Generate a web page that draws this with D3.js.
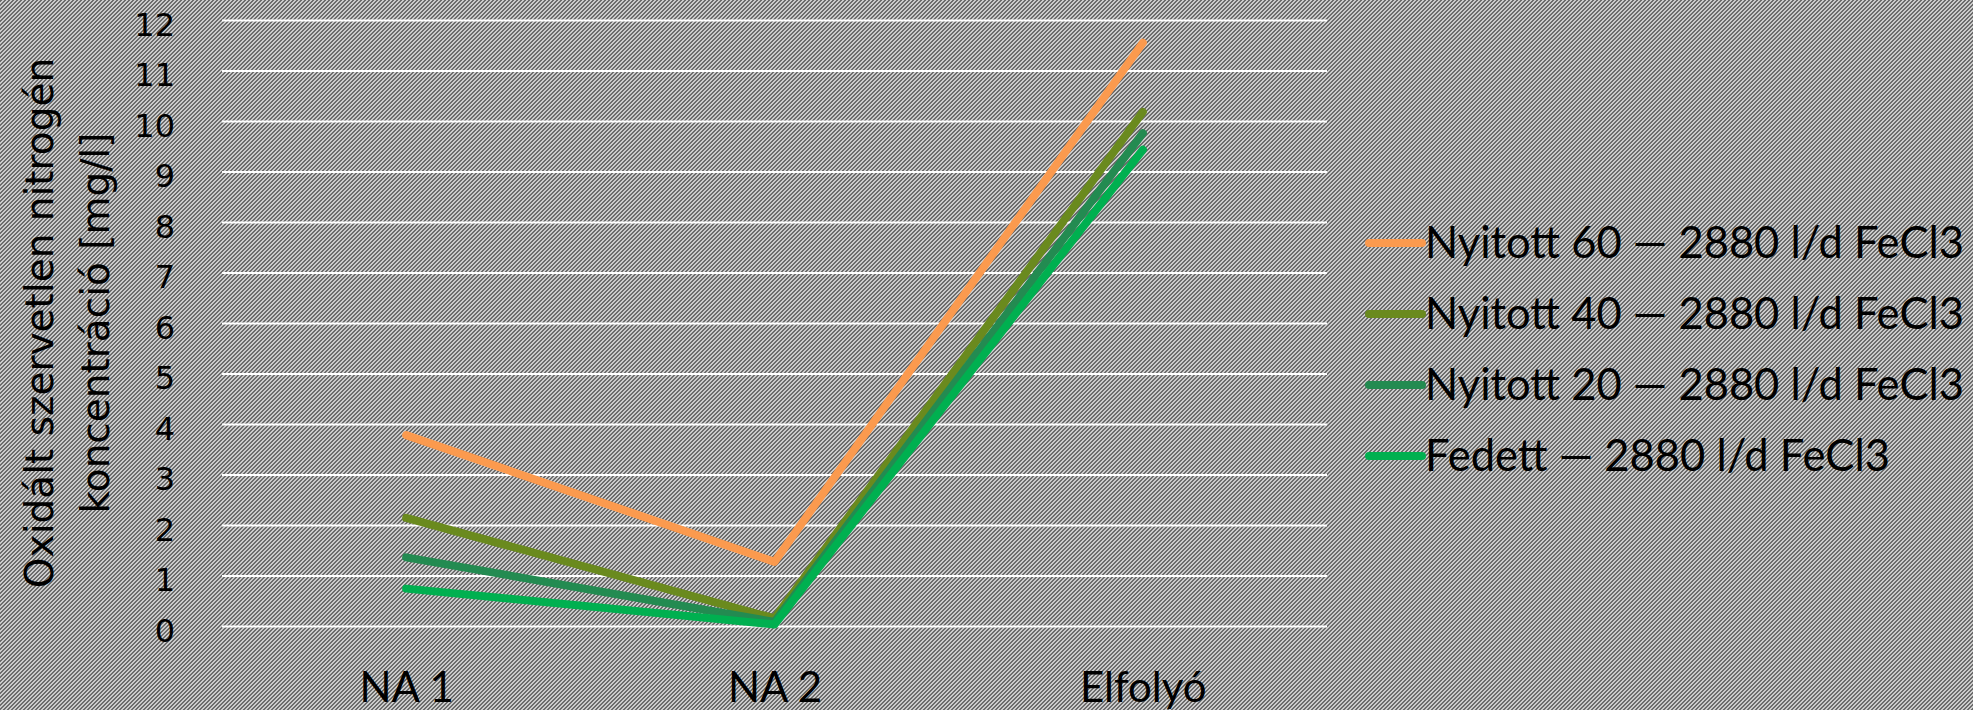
<!DOCTYPE html>
<html>
<head>
<meta charset="utf-8">
<script src="https://cdnjs.cloudflare.com/ajax/libs/d3/7.8.5/d3.min.js"></script>
<style>
body { margin: 0; overflow: hidden; }
svg { display: block; }
</style>
</head>
<body>
<svg id="chart" width="1973" height="710"></svg>
<script>
// categories on the x axis
var categories = ["NA 1", "NA 2", "Elfolyó"];

// series names (legend order)
var seriesNames = [
  "Nyitott 60 — 2880 l/d FeCl3",
  "Nyitott 40 — 2880 l/d FeCl3",
  "Nyitott 20 — 2880 l/d FeCl3",
  "Fedett — 2880 l/d FeCl3"
];

// values, mg/l
var nyitott60 = [3.78, 1.27, 11.55];
var nyitott40 = [2.14, 0.15, 10.18];
var nyitott20 = [1.36, 0.08, 9.76];
var fedett = [0.74, 0.03, 9.43];

var yTicks = [0, 1, 2, 3, 4, 5, 6, 7, 8, 9, 10, 11, 12];

var colors = ["#fb9a4e", "#6a8a1e", "#238b51", "#00b050"];
var allSeries = [nyitott60, nyitott40, nyitott20, fedett];

var svg = d3.select("#chart");
var W = 1973, H = 710;
var plotLeft = 222, plotRight = 1327, plotTop = 20, plotBottom = 626;

// striped background
var defs = svg.append("defs");
var pat = defs.append("pattern")
  .attr("id", "stripes")
  .attr("patternUnits", "userSpaceOnUse")
  .attr("width", 4).attr("height", 4);
pat.append("rect").attr("width", 4).attr("height", 4).attr("fill", "#cbcbcb");
for (var r = 0; r < 4; r++) {
  for (var c = 0; c < 4; c++) {
    if ((r + c) % 4 < 2) {
      pat.append("rect").attr("x", c).attr("y", r).attr("width", 1).attr("height", 1)
        .attr("fill", "#6c6c6c");
    }
  }
}
svg.append("rect").attr("width", W).attr("height", H).attr("fill", "url(#stripes)")
  .attr("shape-rendering", "crispEdges");

var x = d3.scalePoint().domain(categories).range([plotLeft, plotRight]).padding(0.5);
var y = d3.scaleLinear().domain([0, 12]).range([plotBottom, plotTop]);

// gridlines
var grid = svg.append("g")
  .attr("transform", "translate(" + plotLeft + ",0)")
  .call(d3.axisLeft(y).tickValues(yTicks).tickSize(-(plotRight - plotLeft)).tickFormat(""));
grid.select(".domain").remove();
grid.selectAll("line").attr("stroke", "#ffffff").attr("stroke-width", 2);

// y tick labels
var yAxis = svg.append("g")
  .attr("transform", "translate(" + plotLeft + ",0)")
  .call(d3.axisLeft(y).tickValues(yTicks).tickSize(0).tickPadding(47));
yAxis.select(".domain").remove();
yAxis.selectAll("text")
  .attr("fill", "#000")
  .attr("dy", "0.47em")
  .style("font-family", "'DejaVu Sans'")
  .style("font-size", "32px");

// x labels
var xAxis = svg.append("g")
  .attr("transform", "translate(0," + plotBottom + ")")
  .call(d3.axisBottom(x).tickSize(0));
xAxis.select(".domain").remove();
xAxis.selectAll("text")
  .attr("fill", "#000")
  .attr("y", 76).attr("dy", 0)
  .style("font-family", "Lato")
  .style("font-size", "42px");

// y axis title (two lines)
var titleLines = ["Oxidált szervetlen nitrogén", "koncentráció [mg/l]"];
var titleX = [53, 109];
titleLines.forEach(function (t, i) {
  svg.append("text")
    .attr("transform", "translate(" + titleX[i] + "," + ((plotTop + plotBottom) / 2) + ") rotate(-90)")
    .attr("text-anchor", "middle")
    .style("font-family", "'DejaVu Sans'")
    .style("font-size", "39px")
    .attr("fill", "#000")
    .text(t);
});

// lines
var line = d3.line()
  .x(function (d, i) { return x(categories[i]); })
  .y(function (d) { return y(d); });

svg.selectAll("path.series")
  .data(allSeries)
  .enter().append("path")
  .attr("class", "series")
  .attr("d", line)
  .attr("fill", "none")
  .attr("stroke", function (d, i) { return colors[i]; })
  .attr("stroke-width", 8)
  .attr("stroke-linecap", "round")
  .attr("stroke-linejoin", "round");

// legend
var legendY = [243, 314, 385, 456];
var leg = svg.selectAll("g.legend")
  .data(seriesNames)
  .enter().append("g")
  .attr("class", "legend")
  .attr("transform", function (d, i) { return "translate(1369," + legendY[i] + ")"; });
leg.append("line")
  .attr("x1", 0).attr("x2", 53)
  .attr("stroke", function (d, i) { return colors[i]; })
  .attr("stroke-width", 8)
  .attr("stroke-linecap", "round");
leg.append("text")
  .attr("x", 56).attr("y", 15)
  .style("font-family", "Lato")
  .style("font-size", "43.5px")
  .attr("fill", "#000")
  .text(function (d) { return d; });
</script>
</body>
</html>
